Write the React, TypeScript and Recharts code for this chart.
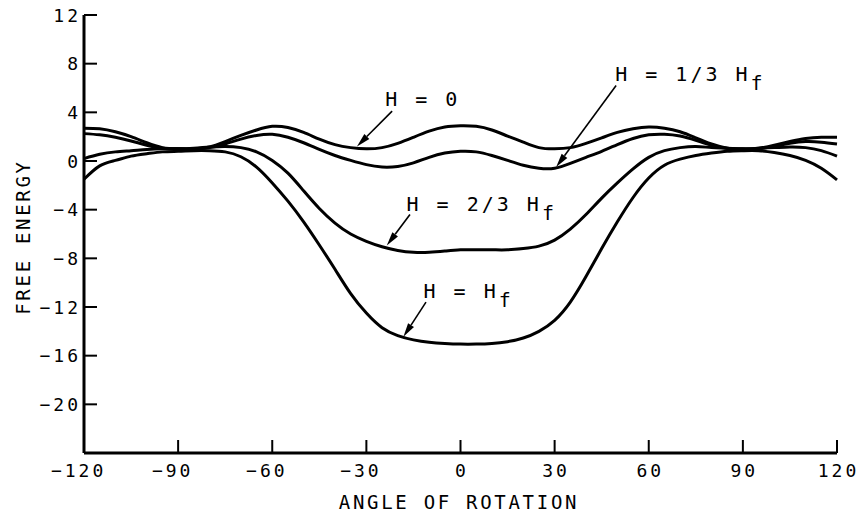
import { LineChart, Line, XAxis, YAxis, ReferenceLine, ReferenceDot, Customized } from "recharts"

// angle of rotation (degrees)
const angles = [
  -120, -115, -110, -105, -100, -95, -90, -85, -80, -75, -70, -65, -60, -55, -50, -45, -40, -35, -30, -25, -20, -15, -10, -5,
  0, 5, 10, 15, 20, 25, 30, 35, 40, 45, 50, 55, 60, 65, 70, 75, 80, 85, 90, 95, 100, 105, 110, 115, 120,
]

// free energy, H = 0
const h0 = [
  2.7, 2.65, 2.4, 2.0, 1.5, 1.1, 1.0, 1.0, 1.15, 1.6, 2.1, 2.55, 2.85, 2.75, 2.35, 1.8, 1.35, 1.1, 1.0, 1.1, 1.45, 1.95, 2.45, 2.8,
  2.9, 2.85, 2.55, 2.05, 1.55, 1.1, 1.0, 1.1, 1.45, 1.9, 2.35, 2.65, 2.8, 2.7, 2.4, 1.9, 1.4, 1.05, 0.95, 1.05, 1.3, 1.6, 1.85, 1.95, 1.95,
]

// H = 1/3 Hf
const h13 = [
  2.25, 2.15, 1.95, 1.65, 1.3, 1.05, 1.0, 1.0, 1.1, 1.4, 1.8, 2.1, 2.2, 1.95, 1.5, 0.95, 0.45, 0.05, -0.3, -0.5, -0.45, -0.15, 0.3, 0.65,
  0.8, 0.75, 0.45, 0.05, -0.35, -0.6, -0.6, -0.2, 0.3, 0.8, 1.35, 1.85, 2.15, 2.2, 2.05, 1.7, 1.3, 1.05, 1.0, 1.0, 1.2, 1.45, 1.6, 1.55, 1.4,
]

// H = 2/3 Hf
const h23 = [
  0.2, 0.55, 0.75, 0.85, 0.95, 1.0, 1.0, 1.05, 1.15, 1.2, 1.1, 0.75, 0.05, -1.0, -2.45, -3.9, -5.1, -6.0, -6.6, -7.05, -7.35, -7.5, -7.5, -7.4,
  -7.3, -7.3, -7.3, -7.3, -7.2, -7.0, -6.5, -5.6, -4.4, -3.05, -1.8, -0.65, 0.3, 0.85, 1.1, 1.2, 1.1, 1.05, 1.0, 1.05, 1.1, 1.15, 1.1, 0.85, 0.4,
]

// H = Hf
const hf = [
  -1.5, -0.4, 0.05, 0.4, 0.6, 0.75, 0.8, 0.85, 0.85, 0.75, 0.35, -0.5, -1.8, -3.3, -5.0, -6.9, -8.9, -10.9, -12.5, -13.7, -14.35, -14.7, -14.9, -15.0,
  -15.05, -15.05, -15.0, -14.85, -14.55, -14.0, -13.1, -11.6, -9.5, -7.2, -5.0, -3.0, -1.4, -0.35, 0.15, 0.45, 0.65, 0.8, 0.85, 0.85, 0.7, 0.45, 0.05, -0.6, -1.55,
]

const xTicks = [-120, -90, -60, -30, 0, 30, 60, 90, 120]
const yTicks = [12, 8, 4, 0, -4, -8, -12, -16, -20]

const data = angles.map((angle, i) => ({ angle, h0: h0[i], h13: h13[i], h23: h23[i], hf: hf[i] }))

const FONT = '"DejaVu Sans Mono", "Liberation Mono", monospace'
const ADV = 18 * 0.602 + 3 // tick char advance incl. letter spacing

function XTick(props: any) {
  const { x, y, payload } = props
  const v = payload.value
  const digits = String(Math.abs(v))
  const w = digits.length * ADV - 3
  const start = x - w / 2 - (v < 0 ? ADV : 0)
  return (
    <g>
      {v !== -120 && <line x1={x} x2={x} y1={y} y2={y - 13} stroke="#000" strokeWidth={2} />}
      <text x={start} y={y + 24} fontFamily={FONT} fontSize={18} letterSpacing={3} fill="#000">
        {v < 0 ? "\u2212" + digits : digits}
      </text>
    </g>
  )
}

function YTick(props: any) {
  const { x, y, payload } = props
  const v = payload.value
  return (
    <g>
      <line x1={x} x2={x + 13} y1={y} y2={y} stroke="#000" strokeWidth={2} />
      <text x={x - 3} y={y + 6.5} textAnchor="end" fontFamily={FONT} fontSize={18} letterSpacing={3} fill="#000">
        {v < 0 ? "\u2212" + Math.abs(v) : v}
      </text>
    </g>
  )
}

function Arrow(props: any) {
  const { x1, y1, x2, y2 } = props
  const dx = x2 - x1
  const dy = y2 - y1
  const len = Math.hypot(dx, dy)
  const ux = dx / len
  const uy = dy / len
  const hl = 14
  const hw = 3.5
  const bx = x2 - ux * hl
  const by = y2 - uy * hl
  return (
    <g>
      <line x1={x1} y1={y1} x2={bx} y2={by} stroke="#000" strokeWidth={1.6} />
      <polygon
        points={`${x2},${y2} ${bx - uy * hw},${by + ux * hw} ${bx + uy * hw},${by - ux * hw}`}
        fill="#000"
      />
    </g>
  )
}

const notes = [
  { x: -24, y: 4.5, main: "H = 0", sub: "", from: { x: -21.8, y: 4.1 }, to: { x: -33, y: 1.2 } },
  { x: 49.3, y: 6.6, main: "H = 1/3 H", sub: "f", from: { x: 49.6, y: 6.2 }, to: { x: 30.5, y: -0.5 } },
  { x: -17.2, y: -4.1, main: "H = 2/3 H", sub: "f", from: { x: -16.1, y: -4.4 }, to: { x: -23.5, y: -6.95 } },
  { x: -11.8, y: -11.3, main: "H = H", sub: "f", from: { x: -11, y: -11.6 }, to: { x: -18.2, y: -14.45 } },
]

function Titles() {
  return (
    <g fontFamily={FONT} fill="#000">
      <text x={459} y={509} textAnchor="middle" fontSize={19} letterSpacing={2.7}>
        ANGLE OF ROTATION
      </text>
      <text transform="translate(30,237) rotate(-90)" textAnchor="middle" fontSize={19} letterSpacing={2.7}>
        FREE ENERGY
      </text>
    </g>
  )
}

export default function App() {
  return (
    <div style={{ position: "absolute", left: 0, top: 0, background: "#fff" }}>
      <LineChart width={861} height={514} data={data} margin={{ top: 15, right: 24, bottom: 31, left: 24 }}>
        <XAxis
          dataKey="angle"
          type="number"
          domain={[-120, 120]}
          ticks={xTicks}
          interval={0}
          height={30}
          tickSize={0}
          tickMargin={0}
          tickLine={false}
          axisLine={{ stroke: "#000", strokeWidth: 3 }}
          tick={(p: any) => <XTick {...p} />}
        />
        <YAxis
          type="number"
          domain={[-24, 12]}
          ticks={yTicks}
          interval={0}
          width={60}
          tickSize={0}
          tickMargin={0}
          tickLine={false}
          axisLine={{ stroke: "#000", strokeWidth: 3 }}
          tick={(p: any) => <YTick {...p} />}
        />
        <Line dataKey="h0" type="natural" stroke="#000" strokeWidth={3} dot={false} isAnimationActive={false} />
        <Line dataKey="h13" type="natural" stroke="#000" strokeWidth={3} dot={false} isAnimationActive={false} />
        <Line dataKey="h23" type="natural" stroke="#000" strokeWidth={3} dot={false} isAnimationActive={false} />
        <Line dataKey="hf" type="natural" stroke="#000" strokeWidth={3} dot={false} isAnimationActive={false} />
        {notes.map((n) => (
          <ReferenceLine
            key={"a" + n.main}
            segment={[n.from, n.to]}
            ifOverflow="visible"
            shape={(p: any) => <Arrow {...p} />}
          />
        ))}
        {notes.map((n) => (
          <ReferenceDot
            key={"t" + n.main}
            x={n.x}
            y={n.y}
            r={0}
            ifOverflow="visible"
            shape={(p: any) => (
              <text x={p.cx} y={p.cy} fontFamily={FONT} fontSize={20} letterSpacing={3} fill="#000">
                {n.main}
                {n.sub && <tspan dy={9}>{n.sub}</tspan>}
              </text>
            )}
          />
        ))}
        <Customized component={<Titles />} />
      </LineChart>
    </div>
  )
}
